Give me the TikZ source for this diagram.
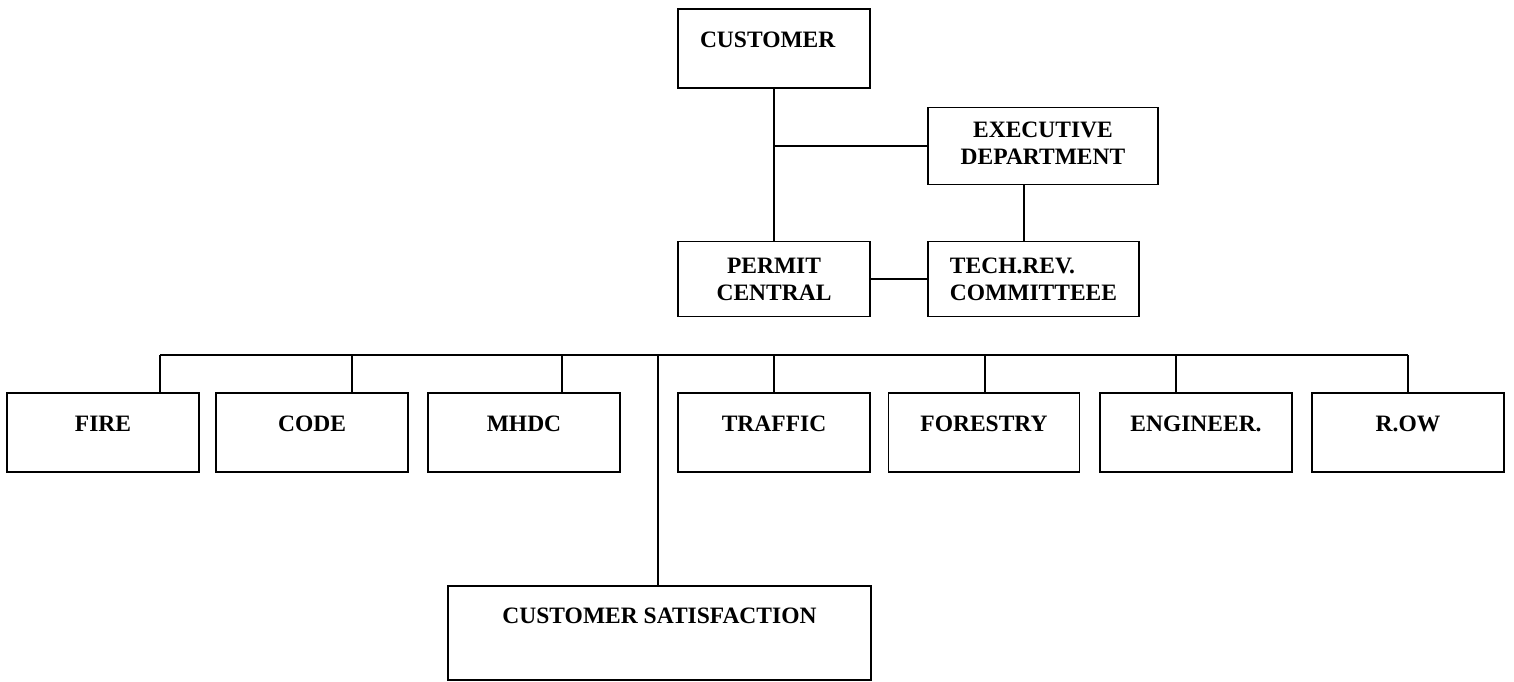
\documentclass[tikz,border=0pt]{standalone}
\usepackage{fontspec}
\setmainfont{Liberation Serif}
\usepackage{tikz}
\usetikzlibrary{positioning}

\begin{document}
\begin{tikzpicture}[x=1pt, y=-1pt,
  every node/.style={font=\fontsize{23.5}{27}\selectfont\bfseries},
  office/.style={draw, line width=1.8pt, minimum width=192pt, minimum height=77pt,
                 inner sep=0pt, align=center},
  dept/.style={draw, line width=1.8pt, minimum width=192pt, minimum height=79pt,
               inner sep=0pt, text height=16pt, text depth=19pt},
  link/.style={line width=1.8pt}
]
  \useasboundingbox (0,0) rectangle (1514,681);

  % customer, executive and permit offices
  \node[office, minimum height=79pt, text height=16pt, text depth=19pt,
        text width=148pt, align=left] (cust) at (774, 48.5) {CUSTOMER};
  \node[office, minimum width=230pt, text depth=6pt] (exec) at (1043, 146) {EXECUTIVE\\DEPARTMENT};
  \node[office, minimum height=75pt] (permit) at (774, 279) {PERMIT\\CENTRAL};
  \node[office, minimum width=211pt, minimum height=75pt, align=left] (tech) at (1033.5, 279) {TECH.REV.\\COMMITTEEE};

  \draw[link] (cust.south) -- (permit.north);
  \draw[link] (exec.west) -- (exec.west -| cust.south);
  \draw[link] ([xshift=-19pt]exec.south) -- ([xshift=-19pt]exec.south |- tech.north);
  \draw[link] (permit.east) -- (tech.west);

  % departments
  \node[dept] (fire) at (103, 432.5) {FIRE};
  \node[dept] (code) at (312, 432.5) {CODE};
  \node[dept] (mhdc) at (524, 432.5) {MHDC};
  \node[dept] (traffic) at (774, 432.5) {TRAFFIC};
  \node[dept, minimum width=191pt] (forestry) at (984, 432.5) {FORESTRY};
  \node[dept] (eng) at (1196, 432.5) {ENGINEER.};
  \node[dept] (row) at (1408, 432.5) {R.OW};
  \node[dept, minimum width=423pt, minimum height=94pt, text depth=36pt] (satis) at (659.5, 633) {CUSTOMER SATISFACTION};

  \coordinate (bus) at (658, 355);
  \draw[link] ([xshift=57pt]fire.north |- bus) -- (row.north |- bus);
  \draw[link] ([xshift=57pt]fire.north) -- ([xshift=57pt]fire.north |- bus);
  \draw[link] ([xshift=40pt]code.north) -- ([xshift=40pt]code.north |- bus);
  \draw[link] ([xshift=38pt]mhdc.north) -- ([xshift=38pt]mhdc.north |- bus);
  \draw[link] (traffic.north) -- (traffic.north |- bus);
  \draw[link] ([xshift=1pt]forestry.north) -- ([xshift=1pt]forestry.north |- bus);
  \draw[link] ([xshift=-20pt]eng.north) -- ([xshift=-20pt]eng.north |- bus);
  \draw[link] (row.north) -- (row.north |- bus);
  \draw[link] (bus) -- (bus |- satis.north);
\end{tikzpicture}
\end{document}
